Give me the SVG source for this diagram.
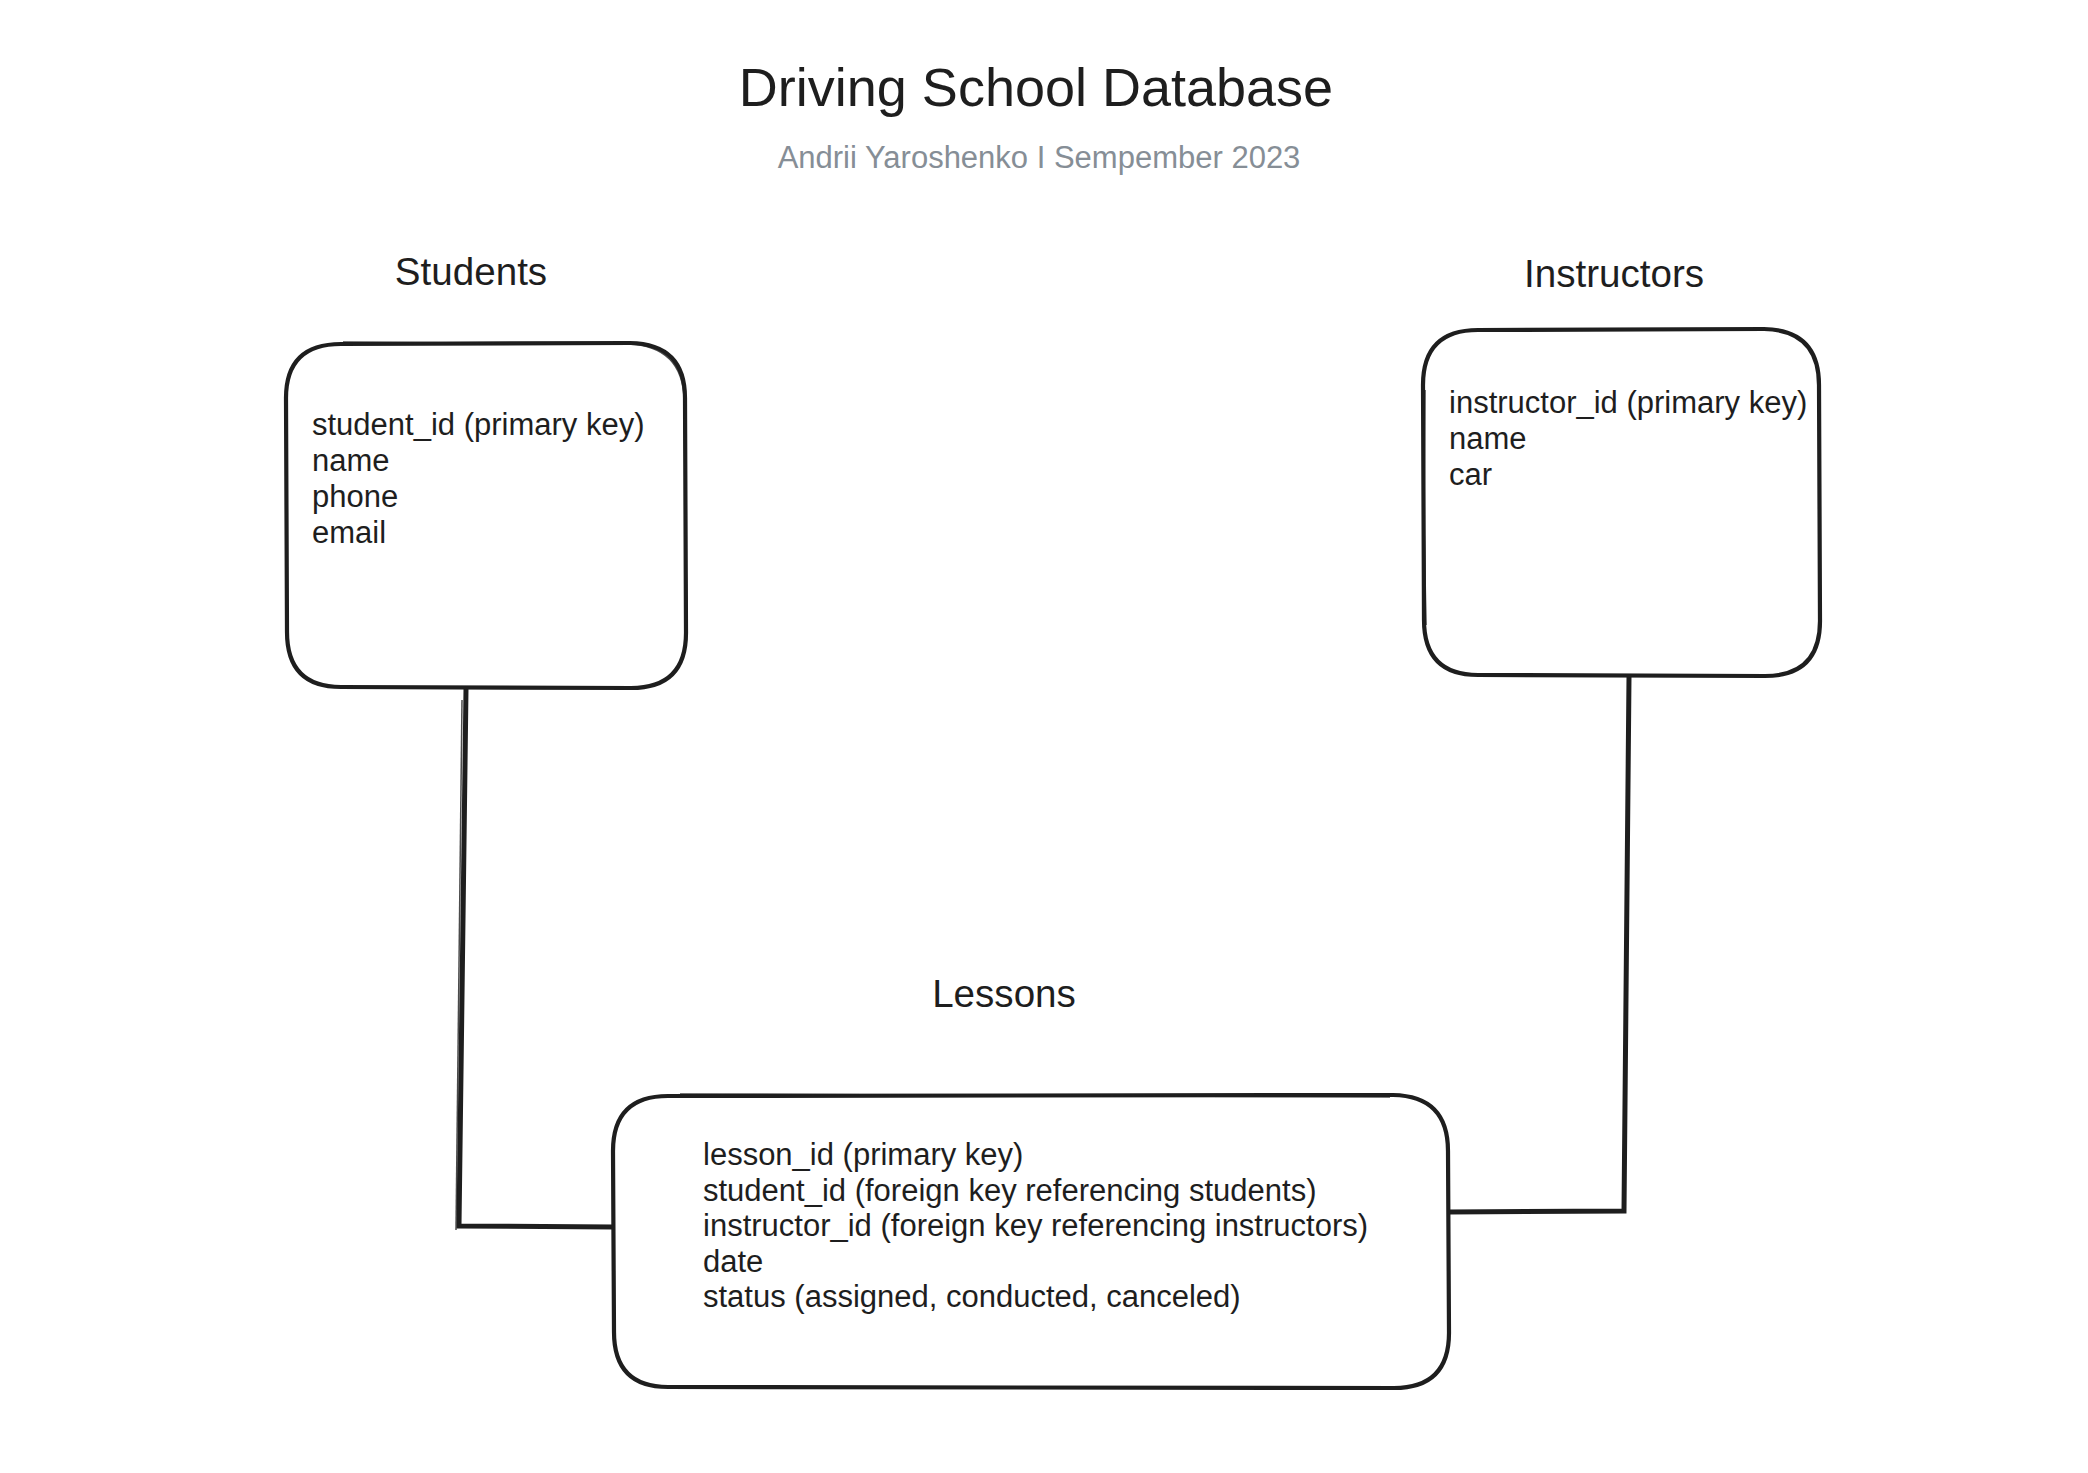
<svg xmlns="http://www.w3.org/2000/svg" width="2088" height="1473" viewBox="0 0 2088 1473">
  <style>
    text { font-family: "Liberation Sans", Arial, Helvetica, sans-serif; fill: #1e1e1e; }
    .title { font-size: 54px; text-anchor: middle; }
    .subtitle { font-size: 31px; text-anchor: middle; fill: #868e96; }
    .label { font-size: 38.6px; text-anchor: middle; }
    .body { font-size: 31px; }
    .box { fill: #ffffff; stroke: #1e1e1e; stroke-width: 4.2; stroke-linejoin: round; }
    .box2 { fill: none; stroke: #1e1e1e; stroke-width: 1.5; opacity: 0.8; }
    .conn { fill: none; stroke: #1e1e1e; stroke-width: 5; stroke-linecap: round; stroke-linejoin: miter; }
  </style>
  <rect width="2088" height="1473" fill="#ffffff"/>

  <g id="header">
    <text class="title" x="1036" y="106">Driving School Database</text>
    <text class="subtitle" x="1039" y="168">Andrii Yaroshenko I Sempember 2023</text>
  </g>

  <g id="connectors">
    <path class="conn" d="M 466 689 L 459 1226 L 613 1227"/>
    <path class="conn" d="M 1629 677 L 1624 1211 L 1449 1212"/>
    <path class="box2" d="M 462 700 L 456 1230"/>
  </g>

  <g id="students">
    <text class="label" x="471" y="285">Students</text>
    <path class="box" d="M 341 344 L 630 343 Q 685 344 685 398 L 686 633 Q 686 688 631 688 L 341 687 Q 287 687 287 632 L 286 398 Q 286 344 341 344 Z"/>
    <path class="box2" d="M 343 342 L 628 344 Q 683 346 684 400 L 687 630"/>
    <text class="body" x="312" y="435">student_id (primary key)</text>
    <text class="body" x="312" y="471">name</text>
    <text class="body" x="312" y="507">phone</text>
    <text class="body" x="312" y="543">email</text>
  </g>

  <g id="instructors">
    <text class="label" x="1614" y="287">Instructors</text>
    <path class="box" d="M 1478 330 L 1764 329 Q 1819 330 1819 385 L 1820 621 Q 1820 676 1765 676 L 1478 675 Q 1424 675 1424 620 L 1423 385 Q 1423 330 1478 330 Z"/>
    <path class="box2" d="M 1425 390 L 1424 520 L 1426 625"/>
    <text class="body" x="1449" y="413">instructor_id (primary key)</text>
    <text class="body" x="1449" y="449">name</text>
    <text class="body" x="1449" y="485">car</text>
  </g>

  <g id="lessons">
    <text class="label" x="1004" y="1007">Lessons</text>
    <path class="box" d="M 668 1096 L 1393 1095 Q 1448 1096 1448 1151 L 1449 1333 Q 1449 1388 1394 1388 L 668 1387 Q 614 1387 614 1332 L 613 1151 Q 613 1096 668 1096 Z"/>
    <path class="box2" d="M 680 1094 L 1390 1097"/>
    <text class="body" x="703" y="1165">lesson_id (primary key)</text>
    <text class="body" x="703" y="1200.5">student_id (foreign key referencing students)</text>
    <text class="body" x="703" y="1236">instructor_id (foreign key referencing instructors)</text>
    <text class="body" x="703" y="1271.5">date</text>
    <text class="body" x="703" y="1307">status (assigned, conducted, canceled)</text>
  </g>
</svg>
